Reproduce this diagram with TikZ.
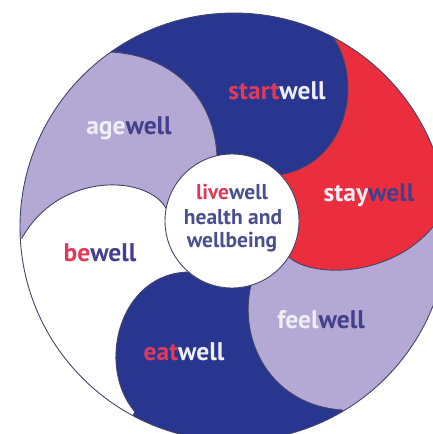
\documentclass[tikz,border=0pt]{standalone}
\usepackage{fontspec}
\setmainfont{PT Sans}
\usetikzlibrary{calc}
\definecolor{navy}{HTML}{293690}
\definecolor{redfill}{HTML}{EA2E3D}
\definecolor{lav}{HTML}{B3A9D4}
\definecolor{edgecol}{HTML}{45456A}
\definecolor{txtred}{HTML}{DE3A5A}
\definecolor{txtnavy}{HTML}{433F8C}
\definecolor{txtwhite}{HTML}{EEEEF6}
\definecolor{innernavy}{HTML}{4A4F8E}
\tikzset{
  edge/.style={draw=edgecol, line width=0.9pt},
  outerlabel/.style={font=\fontsize{25.5}{27}\selectfont\bfseries, inner sep=0pt},
  innerlabel/.style={font=\fontsize{21.5}{25}\selectfont\bfseries, inner sep=0pt, align=center, text=innernavy}
}
\begin{document}
\begin{tikzpicture}[x=1pt,y=1pt]
\useasboundingbox (0,0) rectangle (433,-434);
\clip (0,0) rectangle (433,-434);
\fill[white] (0,0) rectangle (433,-434);
\coordinate (O) at (234,-227);
\coordinate (Ic) at (232,-221);
% boundary A: agewell | startwell
\coordinate (Ai) at (217,-157); \coordinate (Aa) at (215,-100); \coordinate (Ab) at (175,-55); \coordinate (Ao) at (110,-52);
% boundary B: startwell | staywell
\coordinate (Bi) at (279,-175); \coordinate (Ba) at (345,-165); \coordinate (Bb) at (365,-85); \coordinate (Bo) at (333,-37);
% boundary C: staywell | feelwell
\coordinate (Ci) at (288,-256); \coordinate (Ca) at (310,-280); \coordinate (Cb) at (410,-280); \coordinate (Co) at (447,-205);
% boundary D: feelwell | eatwell
\coordinate (Di) at (251,-285); \coordinate (Da) at (238,-340); \coordinate (Db) at (270,-405); \coordinate (Do) at (342,-410);
% boundary E: eatwell | bewell
\coordinate (Ei) at (190,-272); \coordinate (Ea) at (120,-272); \coordinate (Eb) at (95,-365); \coordinate (Eo) at (135,-412);
% boundary F: bewell | agewell
\coordinate (Fi) at (167,-210); \coordinate (Fa) at (150,-175); \coordinate (Fb) at (60,-170); \coordinate (Fo) at (22,-238);
\foreach \b in {A,B,C,D,E,F}{\coordinate (\b x) at ($(O)!2!(\b o)$);}
\begin{scope}
\clip (O) circle[radius=214pt];
\fill[white] (O) circle[radius=214pt];
% startwell
\fill[navy] (Ai) .. controls (Aa) and (Ab) .. (Ao) -- (Ax) -- (Bx) -- (Bo) .. controls (Bb) and (Ba) .. (Bi) -- (Ic) -- cycle;
% staywell
\fill[redfill] (Bi) .. controls (Ba) and (Bb) .. (Bo) -- (Bx) -- (Cx) -- (Co) .. controls (Cb) and (Ca) .. (Ci) -- (Ic) -- cycle;
% feelwell
\fill[lav] (Ci) .. controls (Ca) and (Cb) .. (Co) -- (Cx) -- (Dx) -- (Do) .. controls (Db) and (Da) .. (Di) -- (Ic) -- cycle;
% eatwell
\fill[navy] (Di) .. controls (Da) and (Db) .. (Do) -- (Dx) -- (Ex) -- (Eo) .. controls (Eb) and (Ea) .. (Ei) -- (Ic) -- cycle;
% agewell
\fill[lav] (Fi) .. controls (Fa) and (Fb) .. (Fo) -- (Fx) -- (Ax) -- (Ao) .. controls (Ab) and (Aa) .. (Ai) -- (Ic) -- cycle;
% boundaries
\foreach \b in {A,B,C,D,E,F}{
  \draw[edge] (\b i) .. controls (\b a) and (\b b) .. (\b o) -- (\b x);
}
\end{scope}
\draw[edge] (O) circle[radius=214pt];
\draw[edge, fill=white] (Ic) circle[radius=67pt];
% labels
\node[outerlabel] (start) at (277,-91) {\textcolor{txtred}{start}\textcolor{txtwhite}{well}};
\node[outerlabel] (age) at (129,-128) {\textcolor{txtwhite}{age}\textcolor{txtnavy}{well}};
\node[outerlabel] (stay) at (369,-195) {\textcolor{txtwhite}{stay}\textcolor{txtnavy}{well}};
\node[outerlabel] (be) at (100,-253) {\textcolor{txtred}{be}\textcolor{txtnavy}{well}};
\node[outerlabel] (feel) at (321,-320) {\textcolor{txtwhite}{feel}\textcolor{txtnavy}{well}};
\node[outerlabel] (eat) at (184,-352) {\textcolor{txtred}{eat}\textcolor{txtwhite}{well}};
\node[innerlabel] (live) at (232,-192) {\textcolor{txtred}{live}well};
\node[innerlabel] (health) at (233,-217) {health and};
\node[innerlabel] (wellbeing) at (232,-242) {wellbeing};
\end{tikzpicture}
\end{document}
